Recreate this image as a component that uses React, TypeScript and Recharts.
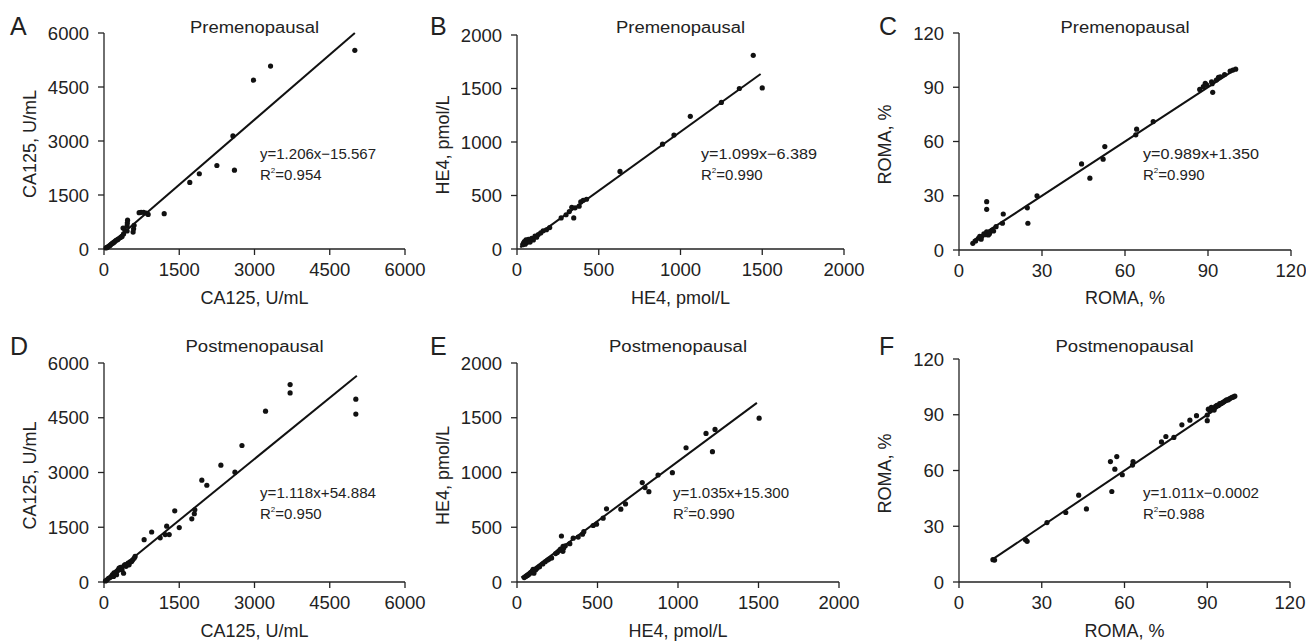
import { ReferenceLine, Scatter, ScatterChart, XAxis, YAxis } from "recharts";

type Pt = [number, number];

// values: [x, y]
const preCa125: Pt[] = [
  [40, 30], [60, 45], [80, 60], [100, 80], [120, 100], [140, 130], [160, 150], [180, 170],
  [200, 190], [220, 215], [240, 240], [270, 260], [290, 285], [330, 320], [360, 350], [390, 420],
  [380, 580], [420, 520], [460, 500], [460, 640], [465, 720], [470, 800], [580, 470], [590, 560],
  [600, 660], [700, 1010], [740, 1020], [790, 1020], [840, 1000], [880, 960], [1200, 980],
  [1710, 1850], [1900, 2090], [2250, 2320], [2570, 3140], [2600, 2190], [2980, 4690],
  [3320, 5080], [5000, 5520],
];
const preHe4: Pt[] = [
  [35, 40], [40, 55], [45, 70], [50, 45], [55, 85], [60, 60], [65, 75], [70, 90], [80, 65],
  [90, 100], [100, 85], [110, 120], [120, 110], [130, 135], [145, 150], [160, 170], [180, 180],
  [200, 200], [270, 290], [300, 320], [320, 350], [335, 390], [347, 290], [355, 385], [380, 400],
  [390, 440], [405, 455], [425, 465], [630, 725], [890, 980], [960, 1065], [1060, 1240],
  [1250, 1370], [1360, 1500], [1445, 1810], [1500, 1505],
];
const preRoma: Pt[] = [
  [5, 3.7], [6, 5], [7, 6.5], [7.5, 7.5], [8, 6], [8.2, 7.4], [9, 9], [9.5, 8.5], [10, 10],
  [10, 26.7], [10, 22.5], [10.6, 8.3], [11, 9], [11.2, 10.1], [12, 11], [12.5, 10.5],
  [13.4, 12.9], [15.7, 14.8], [16, 19.9], [24.7, 23.3], [24.9, 14.8], [28.2, 30], [44.3, 47.6],
  [47.3, 39.7], [52.1, 50.2], [52.7, 57.2], [63.9, 63.7], [64.2, 66.8], [70.2, 71], [87, 88.8],
  [88.3, 90.3], [89, 92.2], [89.5, 91.3], [91.3, 93], [91.7, 87.2], [91.5, 92], [93, 94],
  [93.8, 95.5], [94.5, 95.8], [96, 97], [98, 99], [99, 99.5], [100, 100],
];
const postCa125: Pt[] = [
  [30, 30], [60, 60], [90, 100], [120, 120], [150, 160], [170, 200], [190, 150], [200, 250],
  [220, 230], [240, 280], [250, 200], [270, 310], [290, 340], [300, 380], [330, 400], [360, 330],
  [390, 240], [400, 450], [420, 480], [440, 430], [480, 520], [500, 470], [520, 550], [550, 560],
  [570, 600], [600, 650], [620, 700], [800, 1160], [950, 1370], [1120, 1210], [1220, 1300],
  [1250, 1530], [1300, 1300], [1410, 1950], [1500, 1490], [1750, 1730], [1800, 1870],
  [1810, 1980], [1950, 2790], [2050, 2650], [2330, 3200], [2610, 3010], [2750, 3740],
  [3220, 4680], [3710, 5410], [3710, 5180], [5020, 5010], [5020, 4600],
];
const postHe4: Pt[] = [
  [45, 40], [55, 50], [65, 60], [75, 70], [85, 85], [95, 100], [100, 115], [105, 80], [115, 110],
  [125, 125], [140, 140], [160, 165], [175, 185], [190, 200], [200, 210], [215, 220], [240, 260],
  [250, 270], [260, 285], [270, 300], [276, 420], [285, 280], [286, 325], [290, 310], [300, 330],
  [328, 350], [349, 400], [380, 410], [407, 437], [415, 460], [473, 516], [494, 528], [535, 583],
  [556, 668], [645, 665], [674, 713], [778, 908], [795, 862], [819, 825], [876, 977], [965, 998],
  [1050, 1226], [1174, 1357], [1214, 1190], [1230, 1393], [1504, 1496],
];
const postRoma: Pt[] = [
  [12.3, 12], [12.9, 11.8], [24.1, 22.8], [24.7, 21.9], [31.9, 32], [38.7, 37.4], [43.4, 46.7],
  [46.2, 39.3], [54.9, 64.8], [55.4, 48.7], [56.5, 60.7], [57.2, 67.5], [59.2, 57.7],
  [62.9, 62.9], [63.1, 64.8], [73.4, 75.4], [75, 78.3], [77.9, 77.8], [80.8, 84.6], [83.7, 87.1],
  [86.1, 89.5], [90, 86.8], [90, 89.8], [90.4, 93], [91, 92], [91.5, 94], [92, 93], [92.5, 92.5],
  [93, 94.5], [93.5, 95], [94, 95], [94.5, 96], [95, 96], [95.5, 96.5], [96, 97], [96.5, 97.5],
  [97, 98], [97.5, 98], [98, 98.5], [98.5, 99], [99, 99.3], [99.5, 99.6], [100, 100],
];

// fitted line ends as drawn
const preCa125Fit: Pt[] = [[40, 30], [5000, 6000]];
const preHe4Fit: Pt[] = [[20, 15], [1490, 1635]];
const preRomaFit: Pt[] = [[5, 5], [100, 100]];
const postCa125Fit: Pt[] = [[30, 50], [5040, 5650]];
const postHe4Fit: Pt[] = [[27, 40], [1490, 1636]];
const postRomaFit: Pt[] = [[12, 12], [100, 100]];

const ca125Ticks = [0, 1500, 3000, 4500, 6000];
const he4Ticks = [0, 500, 1000, 1500, 2000];
const romaTicks = [0, 30, 60, 90, 120];

const FONT = '"Liberation Sans", Arial, Helvetica, sans-serif';
const INK = "#222";

interface PanelProps {
  letter: string;
  title: string;
  axisTitle: string;
  points: Pt[];
  fit: Pt[];
  ticks: number[];
  eq: string;
  r2: string;
  // plot box on the page
  box: { left: number; top: number; w: number; h: number };
}

function Dot(props: any) {
  return <circle cx={props.cx} cy={props.cy} r={2.6} fill="#111" />;
}

function Panel({ points, fit, ticks, box }: PanelProps) {
  const data = points.map(([x, y]) => ({ x, y }));
  const max = ticks[ticks.length - 1];
  const tickStyle = { fill: INK, fontSize: 18.5, fontFamily: FONT };
  return (
    <div style={{ position: "absolute", left: box.left - 90, top: box.top - 12 }}>
      <ScatterChart
        width={box.w + 90 + 26}
        height={box.h + 12 + 40}
        margin={{ top: 12, right: 26, bottom: 0, left: 0 }}
      >
        <XAxis
          type="number"
          dataKey="x"
          domain={[0, max]}
          ticks={ticks}
          interval={0}
          height={40}
          tick={tickStyle}
          tickSize={6}
          tickMargin={8}
          axisLine={{ stroke: INK, strokeWidth: 1.3 }}
          tickLine={{ stroke: INK, strokeWidth: 1.3 }}
        />
        <YAxis
          type="number"
          dataKey="y"
          domain={[0, max]}
          ticks={ticks}
          interval={0}
          width={90}
          tick={tickStyle}
          tickSize={6}
          tickMargin={9}
          axisLine={{ stroke: INK, strokeWidth: 1.3 }}
          tickLine={{ stroke: INK, strokeWidth: 1.3 }}
        />
        <Scatter data={data} shape={Dot} isAnimationActive={false} />
        <ReferenceLine
          segment={fit.map(([x, y]) => ({ x, y }))}
          stroke="#111"
          strokeWidth={2}
          ifOverflow="visible"
        />
      </ScatterChart>
    </div>
  );
}

function Labels({ letter, title, axisTitle, eq, r2, box, titleLen }: PanelProps & { titleLen: number }) {
  const cx = box.left + box.w / 2;
  const row2 = box.top > 300;
  const eqX = box.left + (box.w > 325 ? 184 : 156);
  const eqY = row2 ? 498 : 159;
  const letterX = box.left < 200 ? 10 : box.left < 700 ? 430 : 879;
  return (
    <g fontFamily={FONT} fill={INK}>
      <text x={letterX} y={row2 ? 355 : 35} fontSize={25}>{letter}</text>
      <text
        x={cx}
        y={row2 ? 352 : 33}
        fontSize={16}
        textAnchor="middle"
        textLength={titleLen}
        lengthAdjust="spacingAndGlyphs"
      >
        {title}
      </text>
      <text x={cx} y={row2 ? 637 : 304} fontSize={18} textAnchor="middle">{axisTitle}</text>
      <text
        transform={`translate(${box.left - 68}, ${box.top + box.h / 2 + 3}) rotate(-90)`}
        fontSize={18}
        textAnchor="middle"
      >
        {axisTitle}
      </text>
      <text x={eqX} y={eqY} fontSize={15} textLength={eq.length > 15 ? 123 : 116} lengthAdjust="spacingAndGlyphs">
        {eq}
      </text>
      <text x={eqX} y={eqY + 21} fontSize={15}>
        R<tspan dy={-7} fontSize={8}>2</tspan>
        <tspan dy={7}>{r2}</tspan>
      </text>
    </g>
  );
}

const panels: (PanelProps & { titleLen: number })[] = [
  { letter: "A", title: "Premenopausal", axisTitle: "CA125, U/mL", points: preCa125, fit: preCa125Fit, ticks: ca125Ticks, eq: "y=1.206x\u221215.567", r2: "=0.954", box: { left: 104, top: 33, w: 301, h: 216 }, titleLen: 129 },
  { letter: "B", title: "Premenopausal", axisTitle: "HE4, pmol/L", points: preHe4, fit: preHe4Fit, ticks: he4Ticks, eq: "y=1.099x\u22126.389", r2: "=0.990", box: { left: 517, top: 35, w: 327, h: 214 }, titleLen: 129 },
  { letter: "C", title: "Premenopausal", axisTitle: "ROMA, %", points: preRoma, fit: preRomaFit, ticks: romaTicks, eq: "y=0.989x+1.350", r2: "=0.990", box: { left: 959, top: 33, w: 332, h: 217 }, titleLen: 129 },
  { letter: "D", title: "Postmenopausal", axisTitle: "CA125, U/mL", points: postCa125, fit: postCa125Fit, ticks: ca125Ticks, eq: "y=1.118x+54.884", r2: "=0.950", box: { left: 104, top: 363, w: 301, h: 219 }, titleLen: 138 },
  { letter: "E", title: "Postmenopausal", axisTitle: "HE4, pmol/L", points: postHe4, fit: postHe4Fit, ticks: he4Ticks, eq: "y=1.035x+15.300", r2: "=0.990", box: { left: 517, top: 363, w: 322, h: 219 }, titleLen: 138 },
  { letter: "F", title: "Postmenopausal", axisTitle: "ROMA, %", points: postRoma, fit: postRomaFit, ticks: romaTicks, eq: "y=1.011x\u22120.0002", r2: "=0.988", box: { left: 959, top: 359, w: 331, h: 223 }, titleLen: 138 },
];

export default function App() {
  return (
    <div style={{ position: "absolute", left: 0, top: 0, width: 1306, height: 641, background: "#fff" }}>
      {panels.map((p) => (
        <Panel key={p.letter} {...p} />
      ))}
      <svg
        width={1306}
        height={641}
        style={{ position: "absolute", left: 0, top: 0, pointerEvents: "none" }}
      >
        {panels.map((p) => (
          <Labels key={p.letter} {...p} />
        ))}
      </svg>
    </div>
  );
}
